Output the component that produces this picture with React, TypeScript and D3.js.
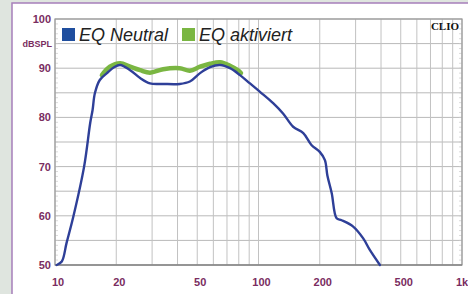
import React from "react";
import * as d3 from "d3";

const blueFreq = [10.2, 10.8, 11.4, 12.3, 13.9, 14.9, 15.3, 15.7, 16.6, 18.0, 19.5, 20.9, 23.4, 26.2, 29.3, 34, 41, 46, 51.6, 57.8, 64.7, 72.4, 81.1, 90.8, 101.7, 118, 132, 148, 166, 182, 200, 212, 218, 229, 242, 256, 292, 327, 353, 395];
const blueDb = [50.0, 50.7, 54.5, 59.8, 70, 78.9, 81.5, 84.9, 87.6, 89.0, 90.2, 90.65, 89.6, 88, 86.9, 86.8, 86.8, 87.3, 89, 90.2, 90.65, 90, 88.6, 86.9, 85.2, 82.9, 80.8, 78.1, 76.8, 74.4, 73.0, 71.3, 68.2, 64.6, 59.5, 59.1, 57.8, 55.4, 53.0, 50];

const greenFreq = [17.0, 18.6, 20.9, 23.4, 26.2, 29.3, 34, 41, 46, 51.6, 57.8, 64.7, 72.4, 79, 82];
const greenDb = [88.6, 90.3, 91, 90.3, 89.6, 89.1, 89.8, 90, 89.5, 90.3, 90.9, 91.2, 90.5, 89.6, 89.0];

const xTickValues = [10, 20, 50, 100, 200, 500, 1000];
const xTickLabels = ["10", "20", "50", "100", "200", "500", "1k"];
const yTickValues = [50, 60, 70, 80, 90, 100];
const seriesNames = ["EQ Neutral", "EQ aktiviert"];

const W = 468, H = 294;
const L = 55, T = 19, R = 462, B = 265;
const labelColor = "#7a2d5f";
const blue = "#2e3f98";
const green = "#7ab642";

export default function App() {
  const x = d3.scaleLog().domain([10, 1000]).range([L, R]);
  const y = d3.scaleLinear().domain([50, 100]).range([B, T]);

  const vGrid: number[] = [];
  for (const dec of [10, 100]) for (let k = 1; k <= 9; k++) vGrid.push(dec * k);
  vGrid.push(1000);
  const hGrid = d3.range(50, 100.1, 5);
  const minor = d3.range(50, 100, 1);

  const line = d3.line<[number, number]>().x(d => x(d[0])).y(d => y(d[1])).curve(d3.curveCatmullRom.alpha(0.5));
  const bluePts = blueFreq.map((f, i) => [f, blueDb[i]] as [number, number]);
  const greenPts = greenFreq.map((f, i) => [f, greenDb[i]] as [number, number]);

  return (
    <svg width={W} height={H} style={{ position: "absolute", left: 0, top: 0 }} fontFamily="Liberation Sans, Arial, sans-serif">
      <rect x={0} y={0} width={W} height={H} fill="#dfe5df" />
      <rect x={12} y={3} width={W} height={H} fill="#ffffff" stroke="#a77fbb" strokeWidth={1.5} />
      {hGrid.map(v => (
        <line key={"h" + v} x1={L} x2={R} y1={y(v)} y2={y(v)} stroke="#b9b9b9" strokeWidth={1} />
      ))}
      {vGrid.map(v => (
        <line key={"v" + v} x1={x(v)} x2={x(v)} y1={T} y2={B} stroke="#c2c2c2" strokeWidth={1} />
      ))}
      {minor.map(v => (
        <g key={"m" + v}>
          <line x1={L} x2={L + 3} y1={y(v)} y2={y(v)} stroke="#cccccc" strokeWidth={0.7} />
          <line x1={R - 3} x2={R} y1={y(v)} y2={y(v)} stroke="#cccccc" strokeWidth={0.7} />
        </g>
      ))}
      <rect x={L} y={T} width={R - L} height={B - T} fill="none" stroke="#9a9a9a" strokeWidth={1.2} />
      <line x1={L} x2={R} y1={B} y2={B} stroke="#777" strokeWidth={1.2} />
      <path d={line(greenPts) || ""} fill="none" stroke={green} strokeWidth={4.5} strokeLinecap="round" strokeLinejoin="round" />
      <path d={line(bluePts) || ""} fill="none" stroke={blue} strokeWidth={2.4} strokeLinecap="round" strokeLinejoin="round" />
      {yTickValues.map(v => (
        <text key={"yt" + v} x={51} y={y(v) + 4} textAnchor="end" fontSize={11} fontWeight="bold" fill={labelColor}>{v}</text>
      ))}
      <text x={52} y={47} textAnchor="end" fontSize={9} fontWeight="bold" fill={labelColor}>dBSPL</text>
      {xTickValues.map((v, i) => (
        <text key={"xt" + v} x={x(v) + (v === 1000 ? 0 : 3)} y={286} textAnchor="middle" fontSize={11} fontWeight="bold" fill={labelColor}>{xTickLabels[i]}</text>
      ))}
      <rect x={62} y={28} width={13} height={13} fill="#1f4e9e" />
      <text x={79} y={41} fontSize={18} fontStyle="italic" fill="#222">{seriesNames[0]}</text>
      <rect x={182} y={28} width={13} height={13} fill={green} />
      <text x={199} y={41} fontSize={18} fontStyle="italic" fill="#222">{seriesNames[1]}</text>
      <text x={459} y={30} textAnchor="end" fontSize={11} fontWeight="bold" fontFamily="Liberation Serif, Times New Roman, serif" fill="#111">CLIO</text>
    </svg>
  );
}
